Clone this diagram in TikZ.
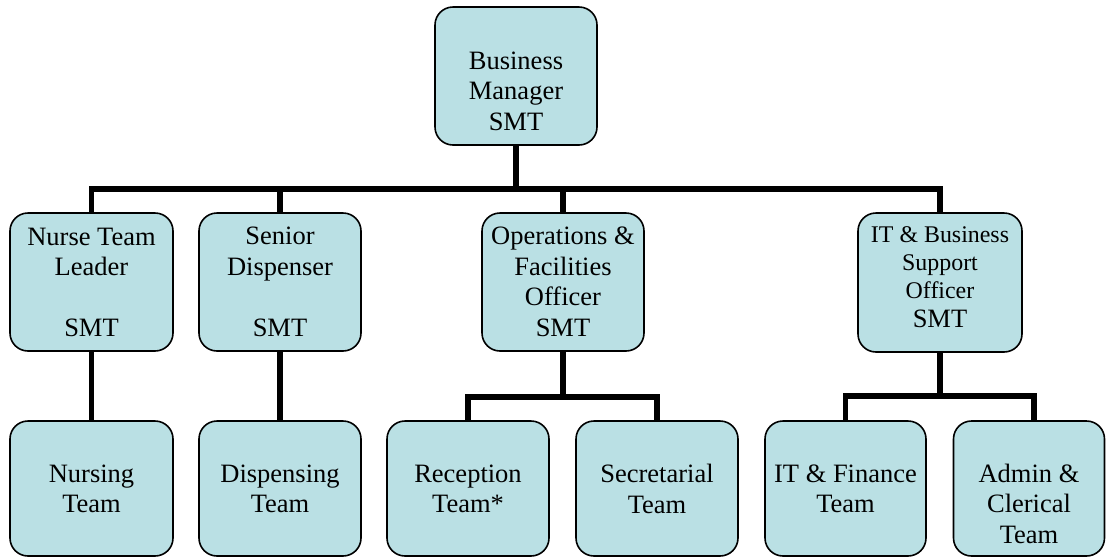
\documentclass[tikz,border=0pt]{standalone}
\usepackage{fontspec}
\setmainfont{Liberation Serif}
\definecolor{boxfill}{RGB}{186,224,228}
\begin{document}
\begin{tikzpicture}[x=1pt,y=-1pt,
  box/.style={draw=black,line width=1.6pt,fill=boxfill,rounded corners=18pt,inner sep=0pt},
  lbl/.style={align=center,inner sep=0pt,font=\fontsize{26.5}{30.5}\selectfont},
  link/.style={line width=5.5pt,line cap=butt}]
\useasboundingbox (0,0) rectangle (1106,558);
% boxes
\node[box,minimum width=162pt,minimum height=138pt] (bm) at (516,76) {};
\node[box,minimum width=163pt,minimum height=138pt] (ntl) at (91.5,282) {};
\node[box,minimum width=162pt,minimum height=138pt] (sd) at (280,282) {};
\node[box,minimum width=162pt,minimum height=138pt] (ofo) at (563,282) {};
\node[box,minimum width=164pt,minimum height=139pt] (itbs) at (940,282.5) {};
\node[box,minimum width=163pt,minimum height=135pt] (nt) at (91.5,488.5) {};
\node[box,minimum width=162pt,minimum height=135pt] (dt) at (280,488.5) {};
\node[box,minimum width=162pt,minimum height=135pt] (rt) at (468,488.5) {};
\node[box,minimum width=162pt,minimum height=135pt] (st) at (657,488.5) {};
\node[box,minimum width=161pt,minimum height=135pt] (ift) at (845.5,488.5) {};
\node[box,minimum width=151pt,minimum height=135pt] (act) at (1029,488.5) {};
% texts
\node[lbl] (bmt) at (516,91) {Business\\Manager\\SMT};
\node[lbl] (ntlt) at (91.5,282.4) {Nurse Team\\Leader\\\mbox{}\\SMT};
\node[lbl] (sdt) at (280,282) {Senior\\Dispenser\\\mbox{}\\SMT};
\node[lbl] (ofot) at (563,282) {Operations \&\\Facilities\\Officer\\SMT};
\node[lbl,font=\fontsize{23.9}{28}\selectfont] (itbst) at (940,277.5) {IT \& Business\\Support\\Officer\\[1pt]{\fontsize{26.5}{30}\selectfont SMT}};
\node[lbl] (ntt) at (91.5,489) {Nursing\\Team};
\node[lbl] (dtt) at (280,489) {Dispensing\\Team};
\node[lbl] (rtt) at (468,489) {Reception\\Team*};
\node[lbl] (stt) at (657,489) {Secretarial\\Team};
\node[lbl] (iftt) at (845.5,489) {IT \& Finance\\Team};
\node[lbl] (actt) at (1029,503.7) {Admin \&\\Clerical\\Team};
% connectors
\coordinate (bar1) at (516,189);
\coordinate (bar2) at (563,397);
\coordinate (bar3) at (940,396);
\draw[link] (bm.south) -- (bar1);
\draw[link] (bar1) -| (ntl.north);
\draw[link] (bar1) -| (sd.north);
\draw[link] (bar1) -| (ofo.north);
\draw[link] (bar1) -| (itbs.north);
\draw[link] (ntl.south) -- (nt.north);
\draw[link] (sd.south) -- (dt.north);
\draw[link] (ofo.south) -- (bar2);
\draw[link] (bar2) -| (rt.north);
\draw[link] (bar2) -| (st.north);
\draw[link] (itbs.south) -- (bar3);
\draw[link] (bar3) -| (ift.north);
\draw[link] (bar3) -| ([xshift=5pt]act.north);
\end{tikzpicture}
\end{document}
